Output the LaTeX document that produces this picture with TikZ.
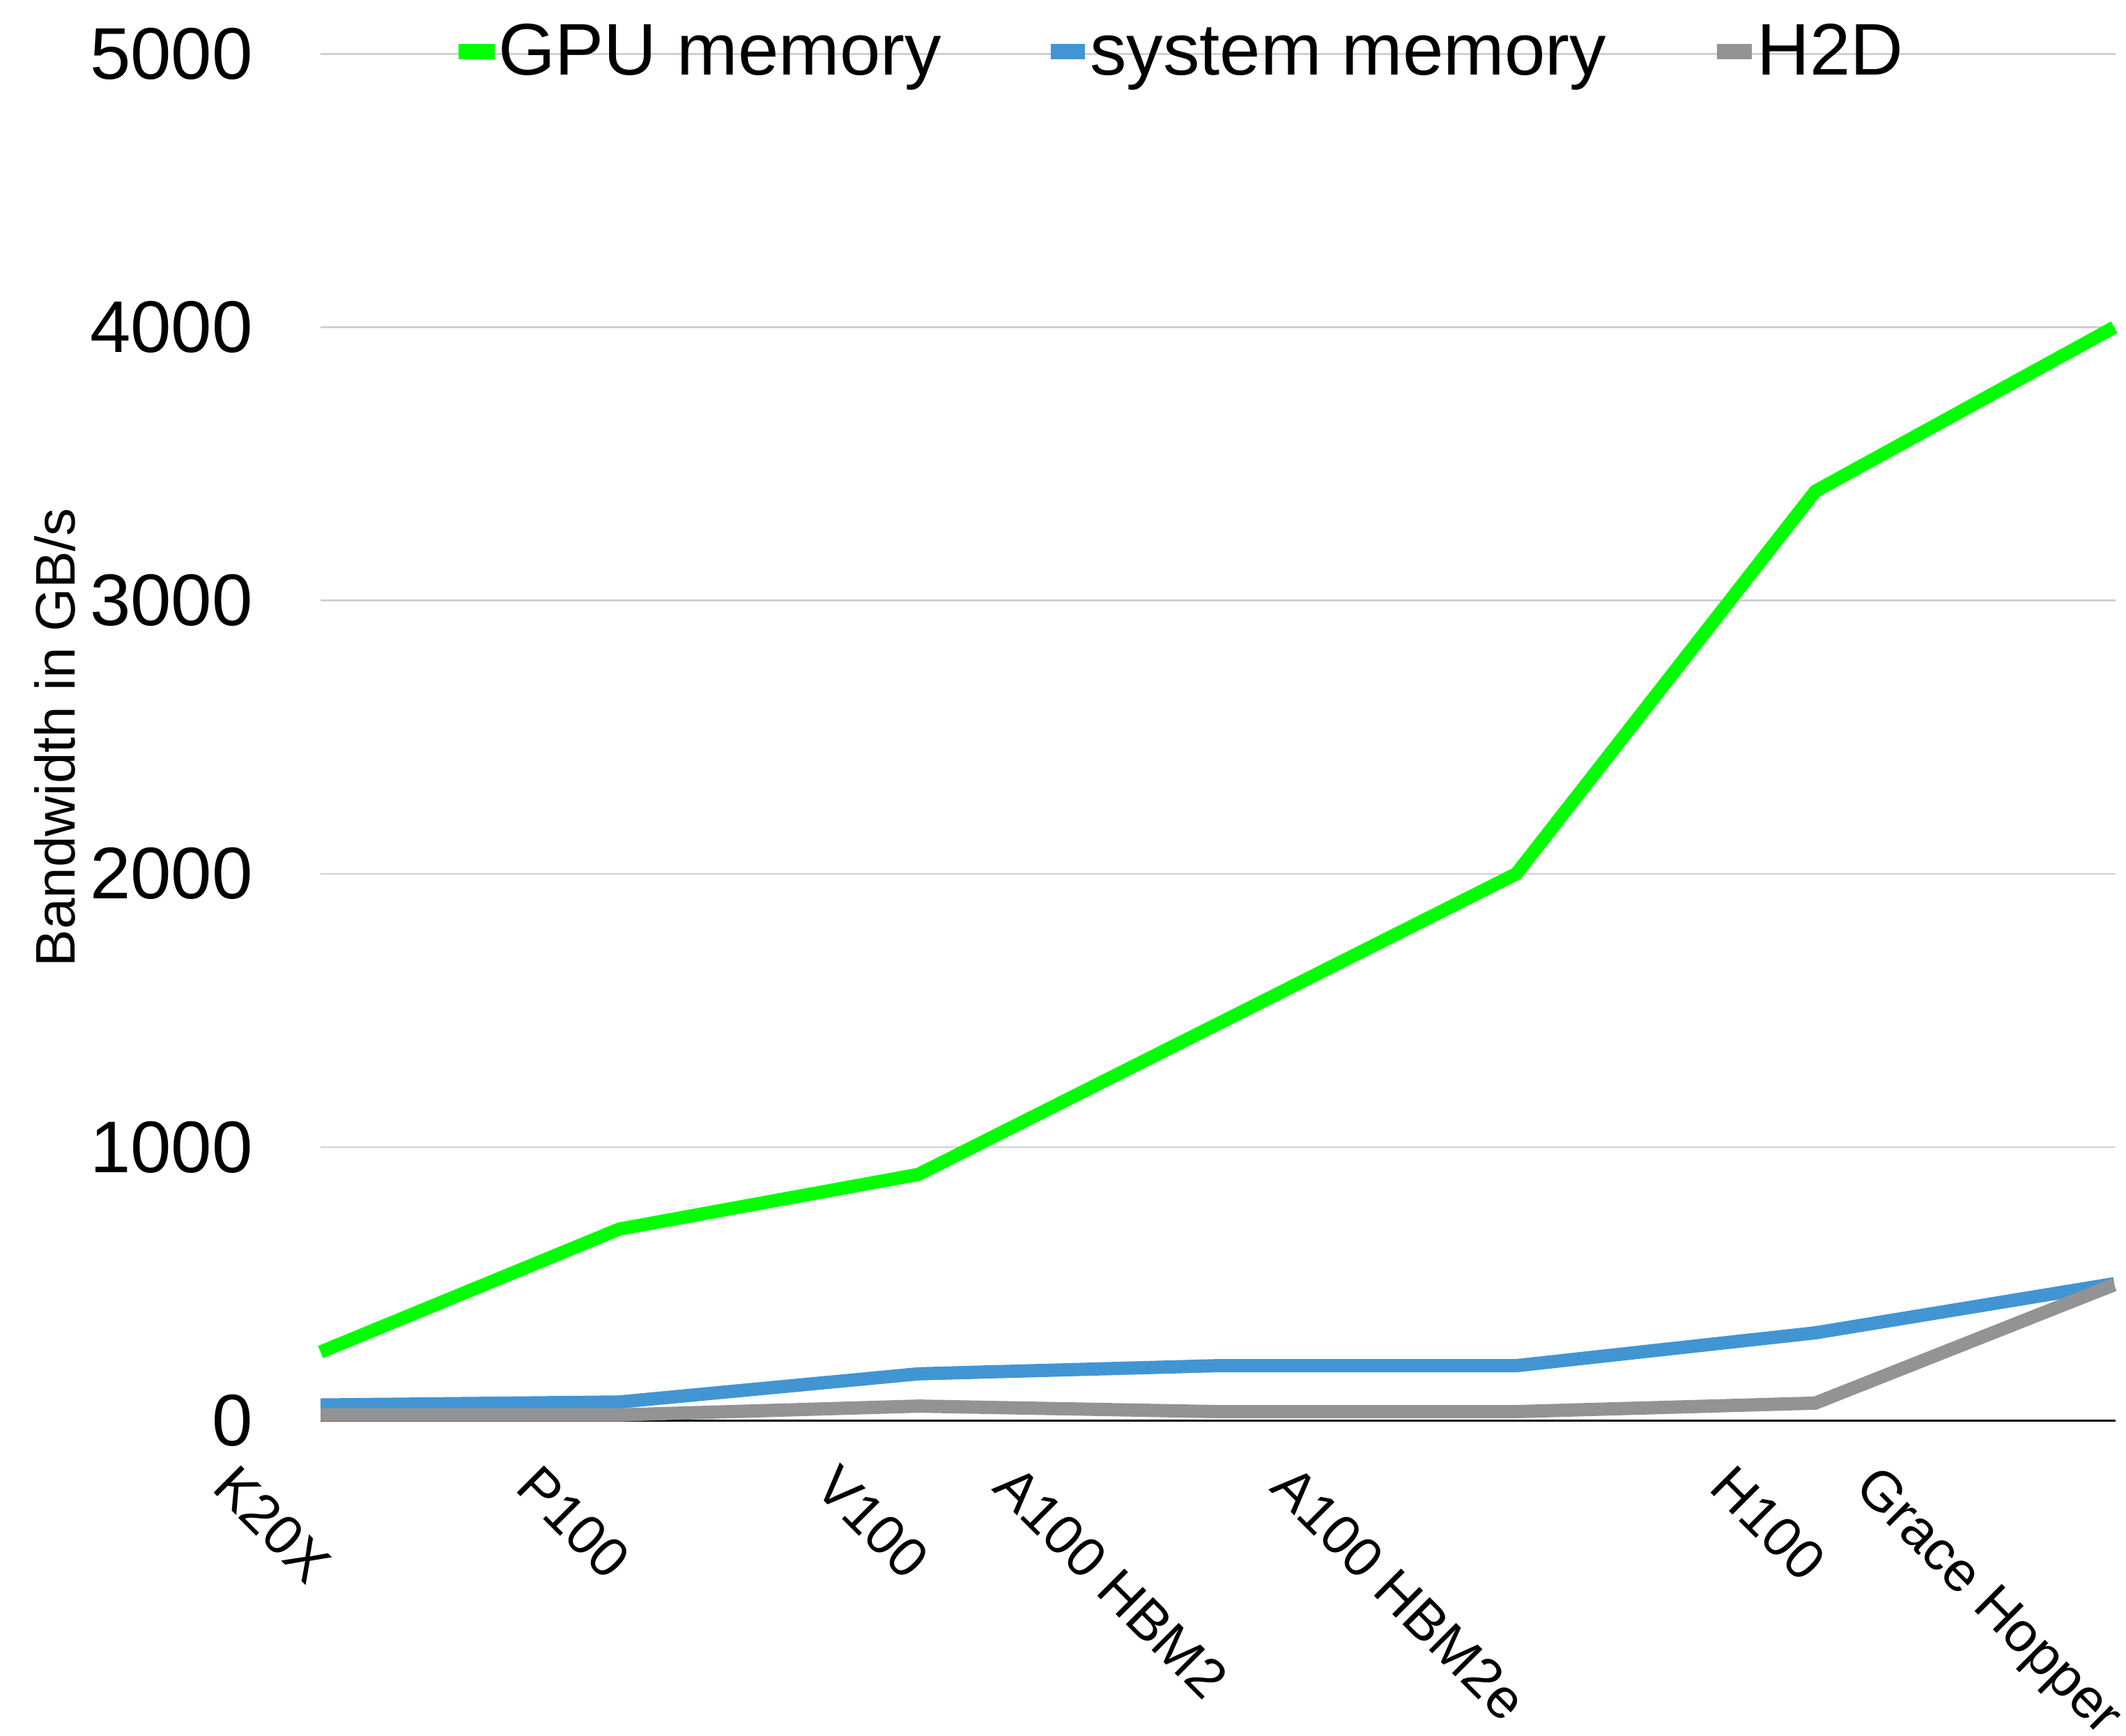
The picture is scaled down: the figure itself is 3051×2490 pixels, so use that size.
\documentclass[tikz,border=0pt]{standalone}
\usepackage{fontspec}
\setmainfont{Liberation Sans}
\definecolor{gpuc}{RGB}{0,255,0}
\definecolor{sysc}{RGB}{66,149,211}
\definecolor{htodc}{RGB}{147,147,147}
\definecolor{gridc}{RGB}{208,208,208}
\tikzset{
  series/.style={line width=19pt, line cap=butt, line join=miter},
  gridln/.style={draw=gridc, line width=2.5pt},
  axisln/.style={draw=black, line width=3pt},
  ticklab/.style={anchor=east, inner sep=0pt, font=\fontsize{105}{126}\selectfont},
  legtxt/.style={anchor=base west, inner sep=0pt, font=\fontsize{105}{126}\selectfont},
  catlab/.style={anchor=north east, rotate=-45, inner sep=0pt, font=\fontsize{80}{96}\selectfont},
  axtitle/.style={anchor=base, rotate=90, inner sep=0pt, font=\fontsize{80}{96}\selectfont},
  legkey/.style={line width=22pt, line cap=butt},
}
\begin{document}
\begin{tikzpicture}[x=1pt,y=-1pt]
\fill[white] (0,0) rectangle (3051,2490);
\useasboundingbox (0,0) rectangle (3051,2490);

% gridlines
\coordinate (gl5a) at (460,77.5);   \coordinate (gl5b) at (3036,77.5);
\coordinate (gl4a) at (460,469.6);  \coordinate (gl4b) at (3036,469.6);
\coordinate (gl3a) at (460,861.7);  \coordinate (gl3b) at (3036,861.7);
\coordinate (gl2a) at (460,1253.8); \coordinate (gl2b) at (3036,1253.8);
\coordinate (gl1a) at (460,1645.9); \coordinate (gl1b) at (3036,1645.9);
\coordinate (gl0a) at (460,2038);   \coordinate (gl0b) at (3036,2038);
\draw[gridln] (gl5a) -- (gl5b);
\draw[gridln] (gl4a) -- (gl4b);
\draw[gridln] (gl3a) -- (gl3b);
\draw[gridln] (gl2a) -- (gl2b);
\draw[gridln] (gl1a) -- (gl1b);
\draw[axisln] (gl0a) -- (gl0b);

% tick labels
\node[ticklab] (t5) at (363,77.5) {5000};
\node[ticklab] (t4) at (363,469.6) {4000};
\node[ticklab] (t3) at (363,861.7) {3000};
\node[ticklab] (t2) at (363,1253.8) {2000};
\node[ticklab] (t1) at (363,1645.9) {1000};
\node[ticklab] (t0) at (363,2038) {0};

% axis title
\node[axtitle] (ytitle) at (107,1058) {Bandwidth in GB/s};

% data points: GPU memory
\coordinate (g0) at (460,1940.0);
\coordinate (g1) at (889,1763.5);
\coordinate (g2) at (1318,1685.1);
\coordinate (g3) at (1747,1469.5);
\coordinate (g4) at (2176,1253.8);
\coordinate (g5) at (2605,704.9);
\coordinate (g6) at (3034,469.6);
% system memory
\coordinate (s0) at (460,2016.0);
\coordinate (s1) at (889,2011.7);
\coordinate (s2) at (1318,1971.3);
\coordinate (s3) at (1747,1959.6);
\coordinate (s4) at (2176,1959.6);
\coordinate (s5) at (2605,1912.5);
\coordinate (s6) at (3034,1842.0);
% H2D
\coordinate (h0) at (460,2030.2);
\coordinate (h1) at (889,2030.2);
\coordinate (h2) at (1318,2017.6);
\coordinate (h3) at (1747,2025.5);
\coordinate (h4) at (2176,2025.5);
\coordinate (h5) at (2605,2013.3);
\coordinate (h6) at (3034,1843.5);

\draw[series, gpuc] (g0) -- (g1) -- (g2) -- (g3) -- (g4) -- (g5) -- (g6);
\draw[series, sysc] (s0) -- (s1) -- (s2) -- (s3) -- (s4) -- (s5) -- (s6);
\draw[series, htodc] (h0) -- (h1) -- (h2) -- (h3) -- (h4) -- (h5) -- (h6);

% category labels
\node[catlab] (c0) at (480.4,2236.4) {K20X};
\node[catlab] (c1) at (909.4,2230.1) {P100};
\node[catlab] (c2) at (1338.4,2230.1) {V100};
\node[catlab] (c3) at (1767.4,2402.9) {A100 HBM2};
\node[catlab] (c4) at (2196.4,2434.4) {A100 HBM2e};
\node[catlab] (c5) at (2625.4,2233.2) {H100};
\node[catlab] (c6) at (3054.4,2453.2) {Grace Hopper};

% legend
\coordinate (k1a) at (658,74);  \coordinate (k1b) at (710,74);
\coordinate (k2a) at (1508,74); \coordinate (k2b) at (1557,74);
\coordinate (k3a) at (2464,74); \coordinate (k3b) at (2514,74);
\draw[legkey, gpuc] (k1a) -- (k1b);
\draw[legkey, sysc] (k2a) -- (k2b);
\draw[legkey, htodc] (k3a) -- (k3b);
\node[legtxt] (l1) at (715,107) {GPU memory};
\node[legtxt] (l2) at (1564,107) {system memory};
\node[legtxt] (l3) at (2521,107) {H2D};
\end{tikzpicture}
\end{document}
